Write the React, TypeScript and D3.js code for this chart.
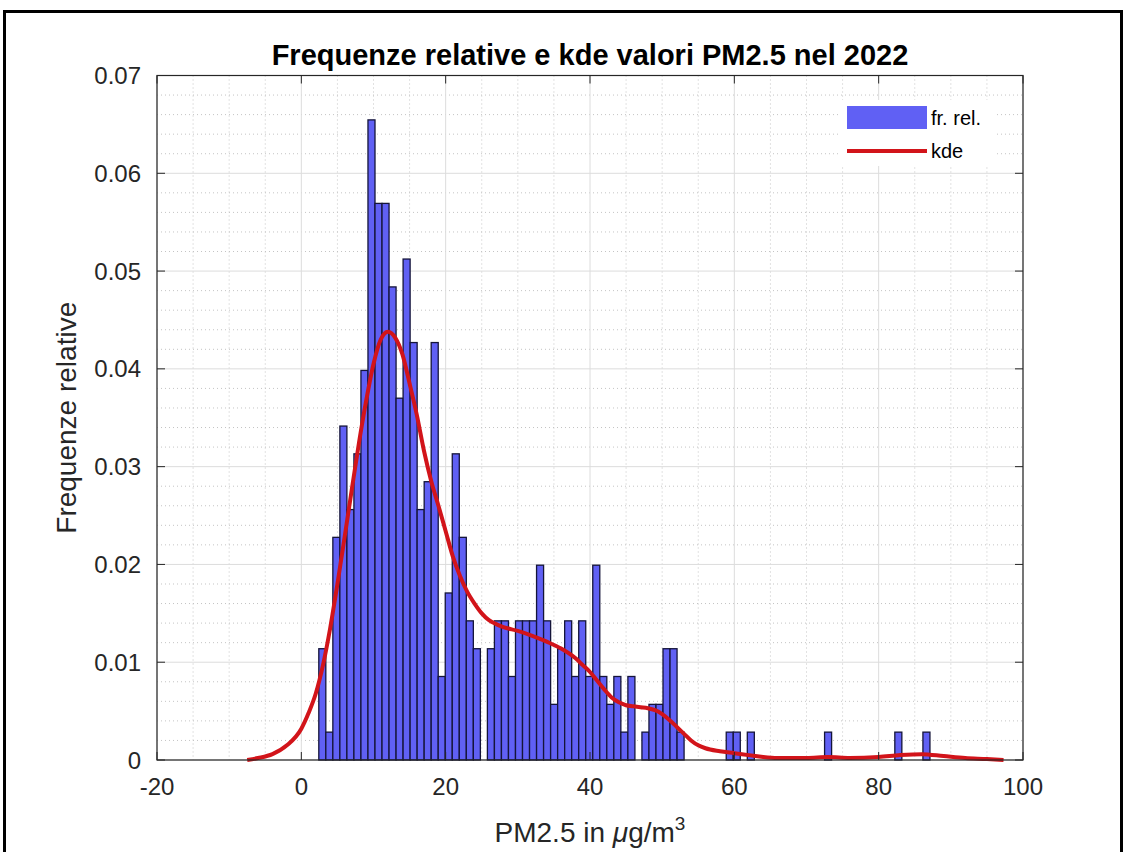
import React from 'react';
import * as d3 from 'd3';

const chartTitle = 'Frequenze relative e kde valori PM2.5 nel 2022';
const xTicks = [-20, 0, 20, 40, 60, 80, 100];
const yTicks = [0, 0.01, 0.02, 0.03, 0.04, 0.05, 0.06, 0.07];
const yTickLabels = ['0', '0.01', '0.02', '0.03', '0.04', '0.05', '0.06', '0.07'];
const legendLabels = ['fr. rel.', 'kde'];

// histogram bins (left edge of first bin, bin width in µg/m3)
const binStart = 2.42;
const binWidth = 0.9734;
// relative frequency (pdf-normalised) of each bin
const relFreq = [
  0.01138, 0.00285, 0.02277, 0.03415, 0.02561, 0.03131, 0.03984, 0.06546, 0.05692, 0.05692,
  0.04838, 0.037, 0.05123, 0.04269, 0.02561, 0.02846, 0.04269, 0.00854, 0.01708, 0.03131,
  0.02277, 0.01423, 0.01138, 0, 0.01138, 0.01423, 0.01423, 0.00854, 0.01423, 0.01423,
  0.01423, 0.01992, 0.01423, 0.00569, 0.01138, 0.01423, 0.00854, 0.01423, 0.00854, 0.01992,
  0.00854, 0.00569, 0.00854, 0.00285, 0.00854, 0, 0.00285, 0.00569, 0.00569, 0.01138,
  0.01138, 0.00285, 0, 0, 0, 0, 0, 0, 0.00285, 0.00285,
  0, 0.00285, 0, 0, 0, 0, 0, 0, 0, 0,
  0, 0, 0.00285, 0, 0, 0, 0, 0, 0, 0,
  0, 0, 0.00285, 0, 0, 0, 0.00285,
];

// kernel density estimate
const kdeX = [
  -7.5, -6, -4, -2, 0, 1, 2, 3, 4, 5, 6, 7, 8, 9, 10, 11, 12, 13, 14, 15, 16, 17, 18, 19, 20,
  21, 22, 23, 24, 25, 26, 27, 28, 30, 32, 34, 36, 38, 39, 40, 41, 42, 43, 44, 45, 46, 47, 48,
  49, 50, 51, 52, 53, 54, 55, 56, 58, 60, 62, 64, 66, 70, 73, 76, 80, 83, 86, 89, 92, 95, 97.3,
];
const kdeY = [
  0, 0.0002, 0.0006, 0.0015, 0.0032, 0.0048, 0.0068, 0.0097, 0.0135, 0.018, 0.0228, 0.0277,
  0.0325, 0.0368, 0.0405, 0.043, 0.0438, 0.0432, 0.0415, 0.0385, 0.0353, 0.0316, 0.0285,
  0.026, 0.0234, 0.0208, 0.0188, 0.0172, 0.016, 0.015, 0.0143, 0.0139, 0.0136, 0.0132,
  0.0127, 0.0121, 0.0114, 0.0104, 0.0097, 0.009, 0.0081, 0.0072, 0.0064, 0.0059, 0.0056,
  0.0055, 0.0054, 0.0053, 0.0051, 0.0047, 0.0041, 0.0034, 0.0027, 0.002, 0.0015, 0.0012,
  0.0009, 0.0007, 0.0005, 0.0003, 0.0002, 0.0002, 0.0003, 0.0002, 0.0003, 0.0005, 0.0006,
  0.0004, 0.0002, 0.0001, 0,
];

const W = 1126;
const H = 852;
const L = 157;
const R = 1023;
const T = 75.5;
const B = 760;
const FONT = '"Liberation Sans", Arial, Helvetica, sans-serif';
const AX = '#262626';

export default function App() {
  const x = d3.scaleLinear().domain([-20, 100]).range([L, R]);
  const y = d3.scaleLinear().domain([0, 0.07]).range([B, T]);

  const minorY = d3.range(0, 0.0701, 0.002).filter((v) => Math.abs(v / 0.01 - Math.round(v / 0.01)) > 1e-6);
  const minorX = d3.range(-20, 100.1, 5).filter((v) => v % 20 !== 0);

  const line = d3
    .line<number>()
    .x((_, i) => x(kdeX[i]))
    .y((d) => y(d))
    .curve(d3.curveMonotoneX);

  const tick = 8;

  return (
    <svg
      width={W}
      height={H}
      style={{ position: 'absolute', left: 0, top: 0, background: '#fff', fontFamily: FONT }}
    >
      <rect x={0} y={0} width={W} height={H} fill="#fff" />
      {/* outer frame */}
      <rect x={4.5} y={11.5} width={1117} height={860} fill="none" stroke="#000" strokeWidth={3} />

      {/* minor grid */}
      {minorY.map((v) => (
        <line key={'my' + v} x1={L} x2={R} y1={y(v)} y2={y(v)} stroke="#c4c4c4" strokeWidth={1} strokeDasharray="1,3" />
      ))}
      {minorX.map((v) => (
        <line key={'mx' + v} x1={x(v)} x2={x(v)} y1={T} y2={B} stroke="#c4c4c4" strokeWidth={1} strokeDasharray="1,3" />
      ))}
      {/* major grid */}
      {yTicks.map((v) => (
        <line key={'gy' + v} x1={L} x2={R} y1={y(v)} y2={y(v)} stroke="#dcdcdc" strokeWidth={1} />
      ))}
      {xTicks.map((v) => (
        <line key={'gx' + v} x1={x(v)} x2={x(v)} y1={T} y2={B} stroke="#dcdcdc" strokeWidth={1} />
      ))}

      {/* histogram */}
      {relFreq.map((v, i) =>
        v > 0 ? (
          <rect
            key={'b' + i}
            x={x(binStart + i * binWidth)}
            y={y(v)}
            width={x(binStart + (i + 1) * binWidth) - x(binStart + i * binWidth)}
            height={y(0) - y(v)}
            fill="#6060f4"
            stroke="#15153a"
            strokeWidth={1.3}
          />
        ) : null
      )}

      {/* kde */}
      <path d={line(kdeY) || ''} fill="none" stroke="#d2141a" strokeWidth={4} strokeLinejoin="round" />

      {/* axes box */}
      <rect x={L} y={T} width={R - L} height={B - T} fill="none" stroke={AX} strokeWidth={1.2} />
      {xTicks.map((v) => (
        <g key={'tx' + v}>
          <line x1={x(v)} x2={x(v)} y1={B} y2={B - tick} stroke={AX} />
          <line x1={x(v)} x2={x(v)} y1={T} y2={T + tick} stroke={AX} />
          <text x={x(v)} y={795} textAnchor="middle" fontSize={24} fill={AX}>
            {v}
          </text>
        </g>
      ))}
      {yTicks.map((v, i) => (
        <g key={'ty' + v}>
          <line x1={L} x2={L + tick} y1={y(v)} y2={y(v)} stroke={AX} />
          <line x1={R} x2={R - tick} y1={y(v)} y2={y(v)} stroke={AX} />
          <text x={141} y={y(v) + 8.5} textAnchor="end" fontSize={24} fill={AX}>
            {yTickLabels[i]}
          </text>
        </g>
      ))}

      {/* title */}
      <text x={(L + R) / 2} y={65} textAnchor="middle" fontSize={29} fontWeight="bold" fill="#000">
        {chartTitle}
      </text>

      {/* axis labels */}
      <text x={(L + R) / 2} y={842} textAnchor="middle" fontSize={28} fill={AX}>
        PM2.5 in <tspan fontStyle="italic">μ</tspan>g/m
        <tspan dy={-12} fontSize={19}>3</tspan>
      </text>
      <text
        transform={`translate(76, ${(T + B) / 2}) rotate(-90)`}
        textAnchor="middle"
        fontSize={28}
        fill={AX}
      >
        Frequenze relative
      </text>

      {/* legend */}
      <rect x={840} y={100} width={155} height={66} fill="#fff" />
      <rect x={847} y={106} width={80} height={23} fill="#6060f4" />
      <line x1={847} x2={927} y1={151} y2={151} stroke="#d2141a" strokeWidth={4} />
      <text x={931} y={125} fontSize={20} fill="#000">
        {legendLabels[0]}
      </text>
      <text x={931} y={158} fontSize={20} fill="#000">
        {legendLabels[1]}
      </text>
    </svg>
  );
}
